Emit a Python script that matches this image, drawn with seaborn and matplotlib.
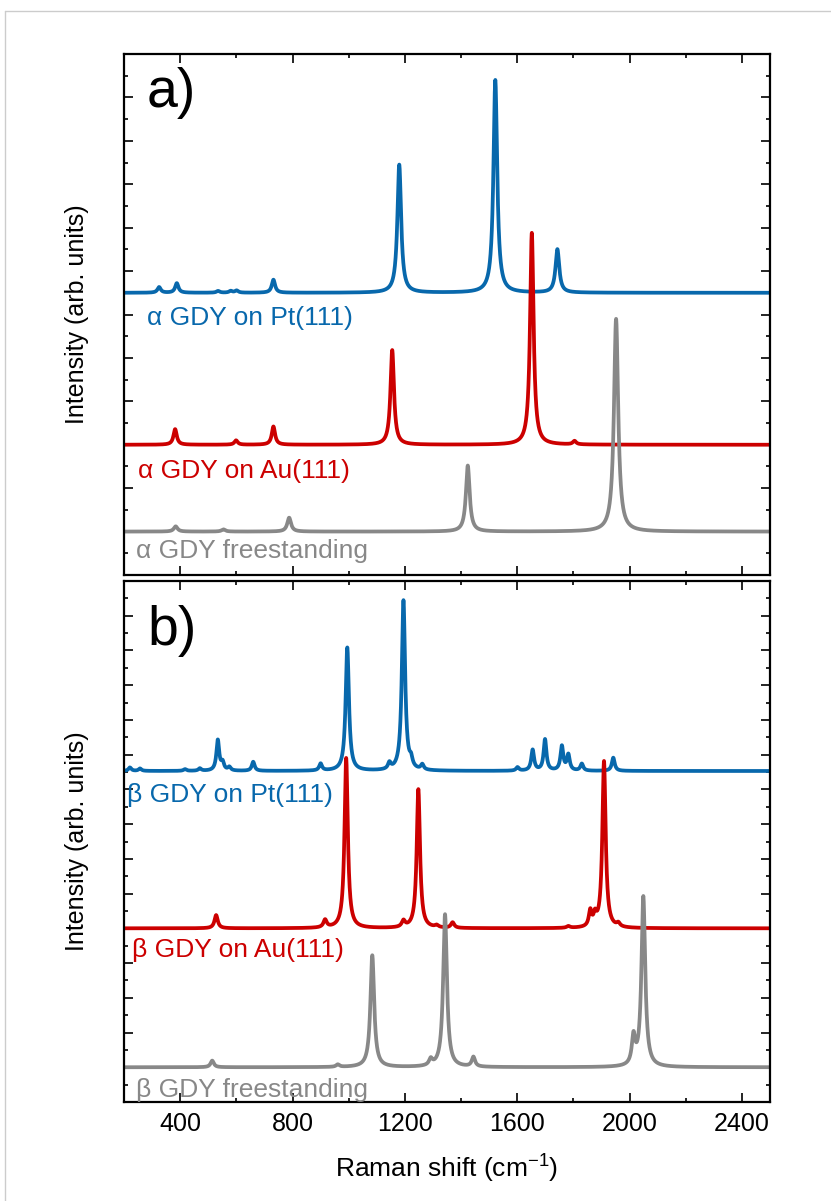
import numpy as np
import pandas as pd
import seaborn as sns
import matplotlib.pyplot as plt
from matplotlib.ticker import MultipleLocator
from matplotlib.lines import Line2D

# Peak tables: position (cm-1), height, half width (cm-1)
# panel a) alpha-GDY, heights in panel units (major tick = 1)
a_pt_pos = [325, 388, 535, 580, 601, 732, 1180, 1522, 1743]
a_pt_hgt = [0.13, 0.22, 0.04, 0.04, 0.05, 0.3, 2.95, 4.9, 1.0]
a_pt_wid = [7, 7, 7, 7, 7, 7, 8, 8, 8]

a_au_pos = [382, 599, 732, 1155, 1652, 1804]
a_au_hgt = [0.36, 0.1, 0.42, 2.18, 4.88, 0.08]
a_au_wid = [7, 7, 7, 7.5, 7.5, 7]

a_fs_pos = [384, 554, 788, 1424, 1952]
a_fs_hgt = [0.12, 0.05, 0.32, 1.52, 4.9]
a_fs_wid = [8, 8, 8, 8, 9]

# panel b) beta-GDY
b_pt_pos = [221, 257, 417, 470, 534, 551, 575, 660, 900, 995, 1145, 1195, 1222,
            1262, 1601, 1655, 1699, 1759, 1782, 1830, 1942]
b_pt_hgt = [0.1, 0.07, 0.05, 0.07, 0.88, 0.22, 0.1, 0.26, 0.2, 3.55, 0.18, 4.9, 0.22,
            0.15, 0.1, 0.6, 0.9, 0.7, 0.45, 0.2, 0.38]
b_pt_wid = [6, 6, 6, 6, 6, 6, 6, 6, 6, 7, 6, 7, 6,
            6, 6, 6, 6, 6, 6, 6, 6]

b_au_pos = [528, 916, 991, 1195, 1248, 1313, 1370, 1782, 1860, 1877, 1909, 1960]
b_au_hgt = [0.38, 0.22, 4.9, 0.18, 4.0, 0.06, 0.16, 0.05, 0.45, 0.3, 4.8, 0.1]
b_au_wid = [7, 7, 7, 7, 7, 7, 7, 7, 6, 6, 7, 7]

b_fs_pos = [514, 961, 1084, 1292, 1343, 1444, 2014, 2049]
b_fs_hgt = [0.19, 0.07, 3.22, 0.18, 4.4, 0.28, 0.8, 4.9]
b_fs_wid = [7, 7, 8, 7, 8, 7, 7, 8]

# vertical offsets of the stacked curves
a_offsets = [6.5, 3.0, 1.0]
b_offsets = [9.53, 5.0, 1.0]

a_labels = ["\u03b1 GDY on Pt(111)", "\u03b1 GDY on Au(111)", "\u03b1 GDY freestanding"]
b_labels = ["\u03b2 GDY on Pt(111)", "\u03b2 GDY on Au(111)", "\u03b2 GDY freestanding"]
colors = ["#0868ac", "#cc0000", "#888888"]

shift = np.arange(200, 2500.5, 0.5)


def spectrum(pos, hgt, wid, base):
    y = np.full_like(shift, base, dtype=float)
    for c, h, g in zip(pos, hgt, wid):
        y += h * g**2 / ((shift - c) ** 2 + g**2)
    return y


def make_df(tables, offsets, labels):
    frames = []
    for (p, h, w), off, lab in zip(tables, offsets, labels):
        frames.append(pd.DataFrame({"shift": shift,
                                    "intensity": spectrum(p, h, w, off),
                                    "sample": lab}))
    return pd.concat(frames, ignore_index=True)


df_a = make_df([(a_pt_pos, a_pt_hgt, a_pt_wid),
                (a_au_pos, a_au_hgt, a_au_wid),
                (a_fs_pos, a_fs_hgt, a_fs_wid)], a_offsets, a_labels)
df_b = make_df([(b_pt_pos, b_pt_hgt, b_pt_wid),
                (b_au_pos, b_au_hgt, b_au_wid),
                (b_fs_pos, b_fs_hgt, b_fs_wid)], b_offsets, b_labels)

sns.set_theme(style="ticks")
plt.rcParams["font.family"] = ["Liberation Sans", "DejaVu Sans"]
plt.rcParams["mathtext.default"] = "regular"
plt.rcParams["text.color"] = "black"
plt.rcParams["axes.labelcolor"] = "black"
plt.rcParams["xtick.color"] = "black"
plt.rcParams["ytick.color"] = "black"

fig = plt.figure(figsize=(8.31, 12.01), dpi=100)
W, H = 831, 1201
ax_a = fig.add_axes([124 / W, 1 - 575 / H, 646 / W, 521 / H])
ax_b = fig.add_axes([124 / W, 1 - 1102 / H, 646 / W, 521 / H])

# light page frame
fig.add_artist(Line2D([5 / W, 1], [1 - 11 / H, 1 - 11 / H], color="#cccccc", lw=1))
fig.add_artist(Line2D([5 / W, 5 / W], [0, 1 - 11 / H], color="#cccccc", lw=1))

panels = [
    (ax_a, df_a, a_labels, 12, "a)", 13,
     [(282, 5.76), (250, 2.23), (243, 0.39)]),
    (ax_b, df_b, b_labels, 15, "b)", 24,
     [(210, 8.65), (227, 4.18), (243, 0.15)]),
]

for ax, df, labels, ytop, tag, tag_dy, label_xy in panels:
    sns.lineplot(data=df, x="shift", y="intensity", hue="sample",
                 hue_order=labels, palette=colors, estimator=None,
                 sort=False, legend=False, lw=2.7, ax=ax)
    ax.set_xlim(200, 2500)
    ax.set_ylim(0, ytop)
    ax.xaxis.set_major_locator(MultipleLocator(400))
    ax.xaxis.set_minor_locator(MultipleLocator(200))
    ax.yaxis.set_major_locator(MultipleLocator(1))
    ax.yaxis.set_minor_locator(MultipleLocator(0.5))
    ax.tick_params(which="both", direction="in", top=True, right=True,
                   labelleft=False, width=1.2, color="black")
    ax.tick_params(which="major", length=6.5)
    ax.tick_params(which="minor", length=3.2)
    for sp in ax.spines.values():
        sp.set_linewidth(1.6)
        sp.set_color("black")
    ax.set_ylabel("Intensity (arb. units)", fontsize=18)
    ax.yaxis.set_label_coords(-0.054, 0.5)
    ax.text(23 / 646, 1 - tag_dy / 521, tag, transform=ax.transAxes,
            fontsize=40, ha="left", va="top", color="black")
    for (tx, ty), lab, col in zip(label_xy, labels, colors):
        ax.text(tx, ty, lab, color=col, fontsize=19, ha="left", va="baseline")

ax_a.tick_params(labelbottom=False)
ax_a.set_xlabel("")
ax_b.tick_params(axis="x", labelsize=18, pad=7)
ax_b.set_xlabel("Raman shift (cm$^{-1}$)", fontsize=19, labelpad=12)

fig.savefig("out.png", dpi=100)
